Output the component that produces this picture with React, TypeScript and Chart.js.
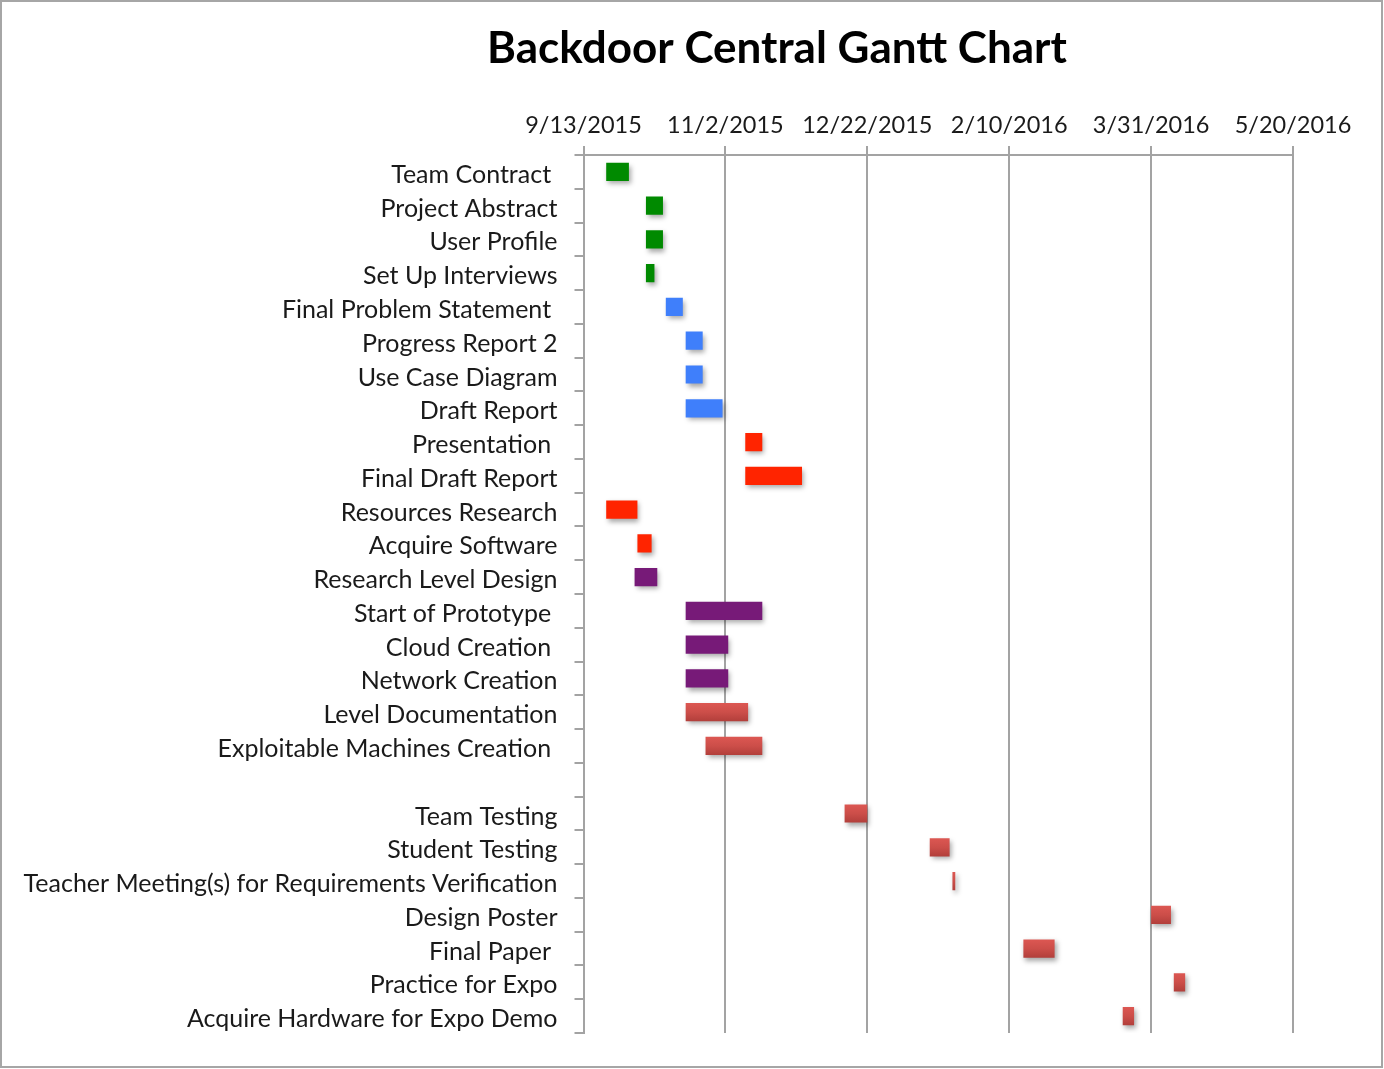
import React, { useEffect, useRef } from "react";
import { Chart, registerables } from "chart.js";

Chart.register(...registerables);

const chartTitle = "Backdoor Central Gantt Chart";

const taskNames = [
  "Team Contract ",
  "Project Abstract",
  "User Profile",
  "Set Up Interviews",
  "Final Problem Statement ",
  "Progress Report 2",
  "Use Case Diagram",
  "Draft Report",
  "Presentation ",
  "Final Draft Report",
  "Resources Research",
  "Acquire Software",
  "Research Level Design",
  "Start of Prototype ",
  "Cloud Creation ",
  "Network Creation",
  "Level Documentation",
  "Exploitable Machines Creation ",
  "",
  "Team Testing",
  "Student Testing",
  "Teacher Meeting(s) for Requirements Verification",
  "Design Poster",
  "Final Paper ",
  "Practice for Expo",
  "Acquire Hardware for Expo Demo",
];

const startDates = [
  "2015-09-21", "2015-10-05", "2015-10-05", "2015-10-05",
  "2015-10-12", "2015-10-19", "2015-10-19", "2015-10-19",
  "2015-11-09", "2015-11-09", "2015-09-21", "2015-10-02",
  "2015-10-01", "2015-10-19", "2015-10-19", "2015-10-19",
  "2015-10-19", "2015-10-26", "",
  "2015-12-14", "2016-01-13", "2016-01-21", "2016-03-31",
  "2016-02-15", "2016-04-08", "2016-03-21",
];

const endDates = [
  "2015-09-29", "2015-10-11", "2015-10-11", "2015-10-08",
  "2015-10-18", "2015-10-25", "2015-10-25", "2015-11-01",
  "2015-11-15", "2015-11-29", "2015-10-02", "2015-10-07",
  "2015-10-09", "2015-11-15", "2015-11-03", "2015-11-03",
  "2015-11-10", "2015-11-15", "",
  "2015-12-22", "2016-01-20", "2016-01-22", "2016-04-07",
  "2016-02-26", "2016-04-12", "2016-03-25",
];

// group index per task -> colour
const taskGroups = [0, 0, 0, 0, 1, 1, 1, 1, 2, 2, 2, 2, 3, 3, 3, 3, 4, 4, 4, 4, 4, 4, 4, 4, 4, 4];
const groupColors = ["#008a00", "#3f7ffb", "#ff2400", "#771a78", "#c9504b"];

const axisStartDate = "2015-09-13";
const axisEndDate = "2016-05-20";
const tickStepDays = 50;

const DAY = 86400000;
const toDays = (s: string) => {
  const [y, m, d] = s.split("-").map(Number);
  const [by, bm, bd] = axisStartDate.split("-").map(Number);
  return Math.round((Date.UTC(y, m - 1, d) - Date.UTC(by, bm - 1, bd)) / DAY);
};
const fmtDate = (days: number) => {
  const [by, bm, bd] = axisStartDate.split("-").map(Number);
  const dt = new Date(Date.UTC(by, bm - 1, bd) + days * DAY);
  return `${dt.getUTCMonth() + 1}/${dt.getUTCDate()}/${dt.getUTCFullYear()}`;
};

const GRID = "#a3a3a3";
const FONT = "Lato, 'Open Sans', sans-serif";

export default function App() {
  const ref = useRef<HTMLCanvasElement | null>(null);

  useEffect(() => {
    if (!ref.current) return;
    const data = taskNames.map((_, i) =>
      startDates[i] ? [toDays(startDates[i]), toDays(endDates[i])] : null
    );

    const shadowPlugin = {
      id: "barShadow",
      beforeDatasetsDraw(chart: any) {
        const ctx = chart.ctx;
        ctx.save();
        ctx.shadowColor = "rgba(0,0,0,0.35)";
        ctx.shadowBlur = 5;
        ctx.shadowOffsetX = 2;
        ctx.shadowOffsetY = 3;
      },
      afterDatasetsDraw(chart: any) {
        chart.ctx.restore();
      },
    };

    const titlePlugin = {
      id: "customTitle",
      afterDraw(chart: any) {
        const ctx = chart.ctx;
        ctx.save();
        ctx.font = `bold 44px ${FONT}`;
        ctx.fillStyle = "#000";
        ctx.textAlign = "center";
        ctx.textBaseline = "middle";
        ctx.fillText(chartTitle, chart.width * 0.562, 47);
        ctx.restore();
      },
    };

    const chart = new Chart(ref.current, {
      type: "bar",
      data: {
        labels: taskNames,
        datasets: [
          {
            data: data as any,
            backgroundColor: (c: any) => {
              const g = taskGroups[c.dataIndex];
              if (g !== 4) return groupColors[g];
              const ys = c.chart.scales?.y;
              if (!ys) return groupColors[g];
              const yc = ys.getPixelForValue(c.dataIndex);
              const grad = c.chart.ctx.createLinearGradient(0, yc - 9, 0, yc + 9);
              grad.addColorStop(0, "#dc5752");
              grad.addColorStop(0.5, "#cc4e49");
              grad.addColorStop(1, "#b23f3b");
              return grad;
            },
            borderWidth: 0,
            borderSkipped: false,
            barPercentage: 0.54,
            categoryPercentage: 1,
          },
        ],
      },
      options: {
        indexAxis: "y",
        animation: false,
        responsive: false,
        maintainAspectRatio: false,
        layout: { padding: { left: 0, right: 88, top: 0, bottom: 33 } },
        plugins: {
          legend: { display: false },
          title: { display: false },
          tooltip: { enabled: false },
        },
        scales: {
          x: {
            type: "linear",
            position: "top",
            min: 0,
            max: toDays(axisEndDate),
            afterFit: (s: any) => {
              s.height = 153;
              s.paddingLeft = 0;
              s.paddingRight = 0;
            },
            ticks: {
              stepSize: tickStepDays,
              callback: (v: any) => fmtDate(Number(v)),
              font: { family: FONT, size: 23.5 },
              color: "#1a1a1a",
              padding: 6,
              maxRotation: 0,
            },
            grid: {
              color: GRID,
              lineWidth: 2,
              tickLength: 9,
              drawTicks: true,
            },
            border: { display: true, color: GRID, width: 2 },
          },
          y: {
            type: "category",
            afterFit: (s: any) => {
              s.width = 581.5;
              s.paddingTop = 0;
              s.paddingBottom = 0;
            },
            ticks: {
              font: { family: FONT, size: 25 },
              color: "#1a1a1a",
              padding: 17,
              labelOffset: 3,
              autoSkip: false,
            },
            grid: {
              drawOnChartArea: false,
              drawTicks: true,
              tickLength: 9,
              color: GRID,
              lineWidth: 2,
              offset: true,
            },
            border: { display: true, color: GRID, width: 2 },
          },
        },
      },
      plugins: [shadowPlugin, titlePlugin],
    } as any);
    return () => chart.destroy();
  }, []);

  return (
    <div
      style={{
        position: "fixed",
        left: 0,
        top: 0,
        width: 1383,
        height: 1068,
        boxSizing: "border-box",
        border: "2px solid #a6a6a6",
        background: "#fff",
      }}
    >
      <canvas ref={ref} width={1379} height={1064} style={{ display: "block" }} />
    </div>
  );
}
